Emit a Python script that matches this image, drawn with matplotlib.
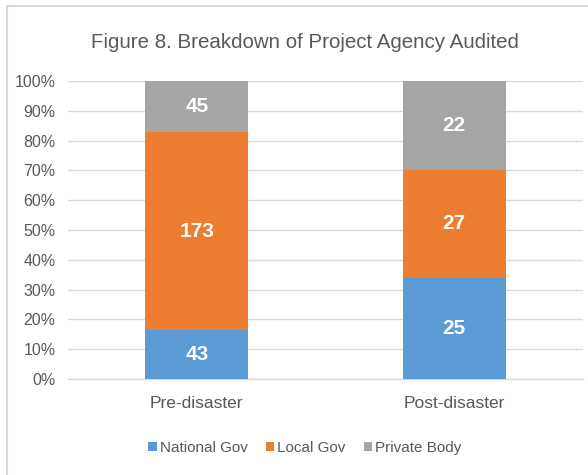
import matplotlib
matplotlib.use("Agg")
import matplotlib.pyplot as plt
from matplotlib import font_manager
import numpy as np

categories = ["Pre-disaster", "Post-disaster"]
series_names = ["National Gov", "Local Gov", "Private Body"]
national = [43, 25]
local = [173, 27]
private = [45, 22]
colors = ["#5B9BD5", "#ED7D31", "#A5A5A5"]

avail = {f.name for f in font_manager.fontManager.ttflist}
fam = ["Liberation Sans Narrow", "Liberation Sans", "DejaVu Sans"]
fam = [f for f in fam if f in avail] or ["DejaVu Sans"]
plt.rcParams["font.family"] = fam

txt = "#595959"
fig = plt.figure(figsize=(5.88, 4.75), dpi=100)
ax = fig.add_axes([68/588, 1-379/475, (583-68)/588, (379-81)/475])

data = np.array([national, local, private], dtype=float)
totals = data.sum(axis=0)
pct = data / totals * 100
x = np.arange(len(categories))
bottom = np.zeros(len(categories))
for i, name in enumerate(series_names):
    bars = ax.bar(x, pct[i], 0.4, bottom=bottom, color=colors[i], label=name, zorder=3)
    for j, b in enumerate(bars):
        ax.text(b.get_x() + b.get_width()/2, bottom[j] + pct[i][j]/2, f"{int(data[i][j])}",
                ha="center", va="center", color="white", fontsize=15, fontweight="bold", zorder=4)
    bottom += pct[i]

ax.set_xlim(-0.5, 1.5)
ax.set_ylim(0, 100)
ax.set_yticks(np.arange(0, 101, 10))
ax.set_yticklabels([f"{v}%" for v in range(0, 101, 10)], fontsize=11.5, color=txt)
ax.set_xticks(x)
ax.set_xticklabels(categories, fontsize=12.5, color=txt)
ax.tick_params(axis="both", length=0)
ax.tick_params(axis="y", pad=9)
ax.tick_params(axis="x", pad=12)
ax.grid(axis="y", color="#D9D9D9", linewidth=1, zorder=0)
for s in ["top", "right", "left"]:
    ax.spines[s].set_visible(False)
ax.spines["bottom"].set_color("#D9D9D9")
ax.spines["bottom"].set_linewidth(1)

fig.text(305/588, 1-42/475, "Figure 8. Breakdown of Project Agency Audited",
         ha="center", va="center", fontsize=14.8, color=txt)

leg = fig.legend(loc="center", bbox_to_anchor=(305/588, 1-448/475), ncol=3, frameon=False,
                 fontsize=11, handlelength=0.55, handleheight=0.55, handletextpad=0.2,
                 columnspacing=1.2, labelcolor=txt)

# outer frame (top & left visible)
fig.add_artist(plt.Line2D([7/588, 1], [1-6/475, 1-6/475], color="#D9D9D9", lw=1.5, transform=fig.transFigure))
fig.add_artist(plt.Line2D([7/588, 7/588], [0, 1-6/475], color="#D9D9D9", lw=1.5, transform=fig.transFigure))

fig.savefig("out.png", dpi=100)
